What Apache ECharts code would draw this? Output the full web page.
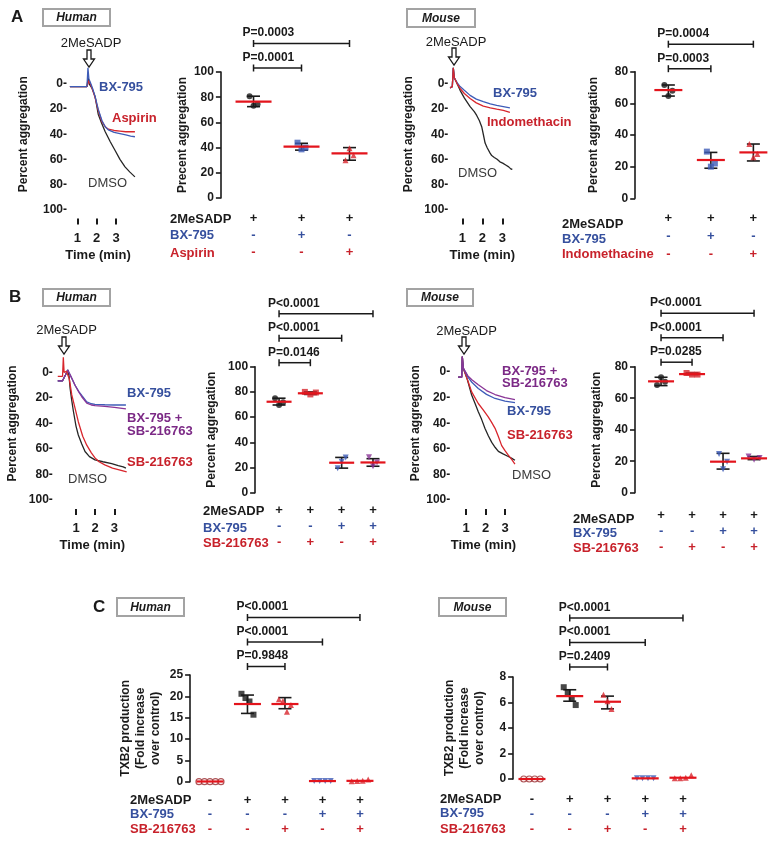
<!DOCTYPE html>
<html>
<head>
<meta charset="utf-8">
<script src="https://cdn.jsdelivr.net/npm/echarts@6.0.0/dist/echarts.min.js"></script>
<style>
html,body{margin:0;padding:0;background:#ffffff;}
#chart{width:781px;height:842px;}
</style>
</head>
<body>
<div id="chart"></div>
<script>
// ================= DATA =================
// Aggregation traces: [time (min), percent aggregation]
const traceAHumanDMSO = [[0.62,2],[1.5,2],[1.56,-5],[1.62,0],[1.75,3],[1.92,10],[2.08,24],[2.25,31],[2.44,38],[2.7,46],[2.95,53],[3.2,60],[3.46,66],[3.7,70],[3.97,74]];
const traceAHumanAspirin = [[0.62,2],[1.5,2],[1.6,-3],[1.68,0],[1.8,5],[1.92,11],[2.08,21],[2.27,30],[2.44,34],[2.6,36],[2.9,37],[3.2,37.5],[3.5,38],[3.75,38],[3.97,38]];
const traceAHumanBX = [[0.62,2],[1.5,2],[1.55,-13],[1.6,-4],[1.68,-1],[1.8,4],[1.92,10],[2.08,20],[2.27,29],[2.44,34],[2.6,36.5],[2.9,38.5],[3.2,39.5],[3.5,40.5],[3.75,41.5],[3.97,42]];

const traceAMouseDMSO = [[0.39,3],[0.5,2],[0.55,-13],[0.6,-5],[0.75,0],[0.89,5],[1.1,11],[1.39,18],[1.6,22],[1.72,25],[1.85,29],[1.97,34],[2.05,40],[2.14,47],[2.25,51],[2.39,55],[2.47,57],[2.52,56],[2.6,58.5],[2.66,57.5],[2.74,60],[2.8,59.5],[2.88,62],[2.95,61],[3.02,63],[3.1,62.5],[3.17,64.5],[3.25,64],[3.32,66],[3.39,65.5],[3.45,68],[3.5,67.5]];
const traceAMouseIndo = [[0.39,3],[0.5,2],[0.55,-13],[0.6,-5],[0.75,0],[0.89,3.5],[1.1,7.5],[1.39,11.5],[1.7,15],[2.05,17.6],[2.4,19],[2.72,20],[3.05,21],[3.38,22.5]];
const traceAMouseBX = [[0.39,3],[0.5,2],[0.55,-13],[0.6,-5],[0.75,-1],[0.89,2],[1.1,5],[1.39,9],[1.7,12],[2.05,14],[2.4,15.8],[2.72,17],[3.05,18],[3.38,19]];

const traceBHumanDMSO = [[0.05,6.5],[0.3,6.5],[0.45,2],[0.57,-2],[0.64,3],[0.69,12],[0.78,22],[0.86,30],[1.0,42],[1.12,49],[1.3,56],[1.47,62],[1.7,66],[1.99,68.5],[2.4,70],[2.86,71.5],[3.2,73],[3.46,74],[3.6,75]];
const traceBHumanSB = [[0.05,3],[0.3,3],[0.34,-12],[0.38,0],[0.5,-1],[0.57,-1.5],[0.65,5],[0.78,17.6],[0.95,28],[1.12,38.6],[1.35,50],[1.56,57],[1.8,63],[1.99,67],[2.2,70],[2.5,72.5],[2.9,75],[3.3,76.5],[3.64,78]];
const traceBHumanCombo = [[0.05,6.5],[0.3,6.5],[0.45,2],[0.57,-2],[0.7,2],[0.95,10],[1.15,15.5],[1.3,19],[1.56,24],[1.8,25.5],[1.99,26],[2.5,26.5],[3.0,27.3],[3.6,28.5]];
const traceBHumanBX = [[0.05,6.5],[0.3,6.5],[0.45,2],[0.57,-2],[0.7,2],[0.95,10],[1.15,15],[1.3,18],[1.56,23],[1.8,24.5],[1.99,25],[2.5,25.3],[3.0,25.5],[3.6,25.5]];

const traceBMouseDMSO = [[0.6,4],[0.78,4],[0.81,-12],[0.86,-3],[0.91,-2],[1.05,5],[1.29,18],[1.45,24],[1.63,31],[1.8,37],[1.97,44],[2.15,50],[2.32,55],[2.5,59],[2.66,62],[2.9,64],[3.17,66],[3.35,67.5],[3.51,69]];
const traceBMouseSB = [[0.6,4],[0.78,4],[0.81,-12],[0.86,-3],[0.91,-2],[1.1,7],[1.29,15.5],[1.63,24.6],[1.9,30],[2.14,35],[2.3,39],[2.49,44],[2.65,50],[2.83,57.5],[3.0,61.5],[3.17,65],[3.35,68.5],[3.51,72]];
const traceBMouseBX = [[0.6,4],[0.78,4],[0.81,-12],[0.86,-3],[0.91,-2],[1.1,4],[1.3,8],[1.63,12.9],[2.05,17.5],[2.49,20.7],[3.0,22.8],[3.51,24]];
const traceBMouseCombo = [[0.6,4],[0.78,4],[0.81,-12],[0.86,-3],[0.91,-2],[1.1,3],[1.3,6],[1.63,10],[2.05,14.5],[2.49,17.6],[3.0,20],[3.51,21.5]];

const timeTicks = [1, 2, 3];

// Scatter panels: individual points per group, mean, error bar low/high
const aHumanPoints = [[80.8,73.3,74.4],[43.9,38.6,40.0],[30.0,39.4,34.0]];
const aHumanMean = [76.5,40.7,35.4];
const aHumanLow = [72.5,38.0,30.0];
const aHumanHigh = [80.8,43.4,40.0];
const aHumanRows = ['2MeSADP','BX-795','Aspirin'];
const aHumanSigns = [['+','+','+'],['-','+','-'],['-','-','+']];
const aHumanPLabels = ['P=0.0003','P=0.0001'];
const aHumanPFrom = [1,1];
const aHumanPTo = [3,2];

const aMousePoints = [[71.6,64.6,68.0],[29.5,20.0,22.0],[34.3,25.9,28.0]];
const aMouseMean = [68.4,24.2,29.0];
const aMouseLow = [64.6,19.0,23.6];
const aMouseHigh = [71.6,29.0,34.3];
const aMouseRows = ['2MeSADP','BX-795','Indomethacine'];
const aMouseSigns = [['+','+','+'],['-','+','-'],['-','-','+']];
const aMousePLabels = ['P=0.0004','P=0.0003'];
const aMousePFrom = [1,1];
const aMousePTo = [3,2];

const bHumanPoints = [[75.0,69.6,71.8],[80.0,78.0,79.5],[19.4,24.6,28.0],[28.2,21.0,24.0]];
const bHumanMean = [72.2,78.9,23.8,24.0];
const bHumanLow = [69.6,78.0,19.5,21.0];
const bHumanHigh = [75.0,80.0,28.0,27.0];
const bHumanRows = ['2MeSADP','BX-795','SB-216763'];
const bHumanSigns = [['+','+','+','+'],['-','-','+','+'],['-','+','-','+']];
const bHumanPLabels = ['P<0.0001','P<0.0001','P=0.0146'];
const bHumanPFrom = [1,1,1];
const bHumanPTo = [4,3,2];

const bMousePoints = [[68.4,73.3,70.4],[76.0,75.0,75.0],[24.6,14.9,19.7],[23.0,21.0,22.0]];
const bMouseMean = [70.7,75.3,19.7,21.8];
const bMouseLow = [68.0,75.0,15.0,21.0];
const bMouseHigh = [73.3,76.0,25.0,23.0];
const bMouseRows = ['2MeSADP','BX-795','SB-216763'];
const bMouseSigns = [['+','+','+','+'],['-','-','+','+'],['-','+','-','+']];
const bMousePLabels = ['P<0.0001','P<0.0001','P=0.0285'];
const bMousePFrom = [1,1,1];
const bMousePTo = [4,3,2];

const cHumanPoints = [[0,0,0,0,0],[20.6,19.6,18.8,15.7],[19.3,18.9,16.4,18.0],[0.15,0.15,0.15,0.15],[0.1,0.15,0.2,0.5]];
const cHumanMean = [0.05,18.2,18.2,0.15,0.2];
const cHumanLow = [0.05,16.0,17.1,0.15,0.2];
const cHumanHigh = [0.05,20.3,19.7,0.15,0.2];
const cHumanRows = ['2MeSADP','BX-795','SB-216763'];
const cHumanSigns = [['-','+','+','+','+'],['-','-','-','+','+'],['-','-','+','-','+']];
const cHumanPLabels = ['P<0.0001','P<0.0001','P=0.9848'];
const cHumanPFrom = [2,2,2];
const cHumanPTo = [5,4,3];

const cMousePoints = [[0,0,0,0],[7.2,6.8,6.3,5.8],[6.6,6.1,5.5],[0.05,0.05,0.05,0.05],[0.05,0.05,0.1,0.3]];
const cMouseMean = [0.0,6.5,6.06,0.05,0.1];
const cMouseLow = [0.0,6.1,5.5,0.05,0.1];
const cMouseHigh = [0.0,7.0,6.5,0.05,0.1];
const cMouseRows = ['2MeSADP','BX-795','SB-216763'];
const cMouseSigns = [['-','+','+','+','+'],['-','-','-','+','+'],['-','-','+','-','+']];
const cMousePLabels = ['P<0.0001','P<0.0001','P=0.2409'];
const cMousePFrom = [2,2,2];
const cMousePTo = [5,4,3];

// ================= STYLE =================
const FONT = '"Liberation Sans", Arial, Helvetica, sans-serif';
const BLACK = '#1a1a1a';
const TBLUE = '#36509e', TRED = '#c8222b', TPURPLE = '#7c2a86', TGRAY = '#3a3a3a';
const LBLUE = '#3e5cb8', LRED = '#d8262d', LPURPLE = '#8a3596', LBLACK = '#262626';
const MEANRED = '#e3141c';
const rowColors = [BLACK, TBLUE, TRED];

const grids = [], xAxes = [], yAxes = [], series = [];

function addTrace(p) {
  const gi = grids.length;
  grids.push({left: p.left, top: p.top, width: p.width, height: p.height});
  xAxes.push({
    gridIndex: gi, type: 'value', min: p.tMin, max: p.tMax, offset: 9, position: 'bottom',
    axisLine: {show: false, onZero: false}, splitLine: {show: false},
    axisTick: {show: true, customValues: timeTicks, length: 6, lineStyle: {color: BLACK, width: 2}},
    axisLabel: {customValues: timeTicks, margin: 13, color: BLACK, fontFamily: FONT, fontWeight: 'bold', fontSize: 13},
    name: 'Time (min)', nameLocation: 'middle', nameGap: 30,
    nameTextStyle: {color: BLACK, fontFamily: FONT, fontWeight: 'bold', fontSize: 13, padding: p.namePad || 0}
  });
  yAxes.push({
    gridIndex: gi, type: 'value', inverse: true, min: -20, max: 100, interval: 20, position: 'left',
    axisLine: {show: false, onZero: false}, axisTick: {show: false}, splitLine: {show: false},
    axisLabel: {margin: p.labelMargin, color: BLACK, fontFamily: FONT, fontWeight: 'bold', fontSize: 12,
      formatter: v => (v < 0 ? '' : v + '-')},
    name: 'Percent aggregation', nameLocation: 'middle', nameRotate: 90, nameGap: p.nameGap,
    nameTextStyle: {color: BLACK, fontFamily: FONT, fontWeight: 'bold', fontSize: 12}
  });
  p.lines.forEach(l => series.push({
    type: 'line', xAxisIndex: gi, yAxisIndex: gi, data: l.data, showSymbol: false, symbol: 'none',
    lineStyle: {color: l.color, width: 1.3}, silent: true, animation: false, z: l.z || 2
  }));
}

function addScatter(p) {
  const gi = grids.length;
  grids.push({left: p.left, top: p.top, width: p.width, height: p.height});
  const groups = p.points.map((_, i) => i + 1);
  const rich = {};
  rowColors.forEach((c, r) => { rich['r' + r] = {color: c, fontFamily: FONT, fontWeight: 'bold', fontSize: 13, lineHeight: p.lineH}; });
  xAxes.push({
    gridIndex: gi, type: 'value', min: p.xMin, max: p.xMax, position: 'bottom',
    axisLine: {show: false, onZero: false}, axisTick: {show: false}, splitLine: {show: false},
    axisLabel: {customValues: groups, margin: p.tableMargin, rich: rich,
      formatter: v => { const i = Math.round(v) - 1; return p.signs.map((row, r) => '{r' + r + '|' + row[i] + '}').join('\n'); }}
  });
  yAxes.push({
    gridIndex: gi, type: 'value', min: 0, max: p.yMax, interval: p.yInt, position: 'left',
    axisLine: {show: true, onZero: false, lineStyle: {color: BLACK, width: 1.6}},
    axisTick: {show: true, length: 5, lineStyle: {color: BLACK, width: 1.6}},
    splitLine: {show: false},
    axisLabel: {margin: 7, color: BLACK, fontFamily: FONT, fontWeight: 'bold', fontSize: 12},
    name: p.yName, nameLocation: 'middle', nameRotate: 90, nameGap: p.nameGap,
    nameTextStyle: {color: BLACK, fontFamily: FONT, fontWeight: 'bold', fontSize: 12, lineHeight: 15}
  });
  // error bars
  series.push({
    type: 'custom', xAxisIndex: gi, yAxisIndex: gi, clip: false, silent: true, animation: false, z: 1,
    data: groups.map((g, i) => [g, p.low[i], p.high[i]]),
    encode: {x: 0, y: [1, 2]},
    renderItem: (params, api) => {
      const lo = api.value(1), hi = api.value(2);
      if (hi - lo <= 0) return null;
      const a = api.coord([api.value(0), lo]), b = api.coord([api.value(0), hi]);
      const st = {stroke: BLACK, lineWidth: 1.6, fill: null};
      const c = 6.5;
      return {type: 'group', children: [
        {type: 'line', shape: {x1: a[0], y1: a[1], x2: b[0], y2: b[1]}, style: st},
        {type: 'line', shape: {x1: a[0] - c, y1: a[1], x2: a[0] + c, y2: a[1]}, style: st},
        {type: 'line', shape: {x1: b[0] - c, y1: b[1], x2: b[0] + c, y2: b[1]}, style: st}
      ]};
    }
  });
  // points
  const items = [];
  p.points.forEach((vals, gIdx) => {
    const st = p.styles[gIdx];
    const n = vals.length;
    const range = Math.max(...vals) - Math.min(...vals);
    const step = range < 0.05 * p.yMax ? 5.5 : 4;
    vals.forEach((v, i) => {
      items.push({
        value: [gIdx + 1, v], symbol: st.symbol, symbolRotate: st.rotate || 0,
        symbolOffset: [(i - (n - 1) / 2) * step, 0],
        itemStyle: st.hollow ? {color: '#ffffff', borderColor: st.color, borderWidth: 1.2} : {color: st.color}
      });
    });
  });
  series.push({type: 'scatter', xAxisIndex: gi, yAxisIndex: gi, data: items, symbolSize: p.symSize || 6, silent: true, animation: false, z: 2});
  // means
  series.push({
    type: 'custom', xAxisIndex: gi, yAxisIndex: gi, clip: false, silent: true, animation: false, z: 3,
    data: groups.map((g, i) => [g, p.mean[i]]),
    renderItem: (params, api) => {
      const c = api.coord([api.value(0), api.value(1)]);
      return {type: 'line', shape: {x1: c[0] - p.meanW / 2, y1: c[1], x2: c[0] + p.meanW / 2, y2: c[1]},
        style: {stroke: MEANRED, lineWidth: 2.2}};
    }
  });
  // significance brackets
  const nB = p.pLabels.length;
  series.push({
    type: 'custom', xAxisIndex: gi, yAxisIndex: gi, clip: false, silent: true, animation: false, z: 3,
    data: p.pLabels.map((t, i) => [p.pFrom[i], p.pTo[i], nB - 1 - i]),
    encode: {x: [0, 1]},
    renderItem: (params, api) => {
      const a = api.coord([api.value(0), p.yMax]), b = api.coord([api.value(1), p.yMax]);
      const y = a[1] - p.bBase - 24.5 * api.value(2);
      const st = {stroke: BLACK, lineWidth: 1.5, fill: null};
      return {type: 'group', children: [
        {type: 'line', shape: {x1: a[0], y1: y, x2: b[0], y2: y}, style: st},
        {type: 'line', shape: {x1: a[0], y1: y - 3.5, x2: a[0], y2: y + 3.5}, style: st},
        {type: 'line', shape: {x1: b[0], y1: y - 3.5, x2: b[0], y2: y + 3.5}, style: st},
        {type: 'text', x: a[0] - 11, y: y - 10.5, style: {text: p.pLabels[params.dataIndex], fill: BLACK,
          font: 'bold 12px ' + FONT, textAlign: 'left', textVerticalAlign: 'middle', align: 'left', verticalAlign: 'middle'}}
      ]};
    }
  });
}

// ---- trace panels
addTrace({left: 69.5, top: 59, width: 66, height: 150.5, tMin: 0.6, tMax: 4.0, labelMargin: 2.5, nameGap: 40, namePad: [0, 9, 0, 0],
  lines: [{data: traceAHumanDMSO, color: LBLACK}, {data: traceAHumanAspirin, color: LRED}, {data: traceAHumanBX, color: LBLUE}]});
addTrace({left: 448.3, top: 59, width: 68, height: 150.5, tMin: 0.3, tMax: 3.7, labelMargin: 0, nameGap: 34,
  lines: [{data: traceAMouseDMSO, color: LBLACK}, {data: traceAMouseBX, color: LBLUE}, {data: traceAMouseIndo, color: LRED}]});
addTrace({left: 56.8, top: 347, width: 71.04, height: 153, tMin: 0, tMax: 3.7, labelMargin: 4, nameGap: 38,
  lines: [{data: traceBHumanDMSO, color: LBLACK}, {data: traceBHumanBX, color: LBLUE}, {data: traceBHumanCombo, color: LPURPLE}, {data: traceBHumanSB, color: LRED}]});
addTrace({left: 456.25, top: 346.4, width: 62.4, height: 153.6, tMin: 0.5, tMax: 3.7, labelMargin: 6, nameGap: 35, namePad: [0, 8, 0, 0],
  lines: [{data: traceBMouseDMSO, color: LBLACK}, {data: traceBMouseSB, color: LRED}, {data: traceBMouseBX, color: LBLUE}, {data: traceBMouseCombo, color: LPURPLE}]});

// ---- scatter panels
const stylesA = [{symbol: 'circle', color: BLACK}, {symbol: 'rect', color: LBLUE}, {symbol: 'triangle', color: LRED}];
const stylesB = [{symbol: 'circle', color: BLACK}, {symbol: 'rect', color: LRED}, {symbol: 'triangle', rotate: 180, color: LBLUE}, {symbol: 'triangle', rotate: 180, color: LPURPLE}];
const stylesC = [{symbol: 'circle', hollow: true, color: '#9a2a2e'}, {symbol: 'rect', color: BLACK}, {symbol: 'triangle', color: LRED}, {symbol: 'triangle', rotate: 180, color: LBLUE}, {symbol: 'triangle', color: LRED}];

addScatter({left: 220.9, top: 72, width: 152.6, height: 126, xMin: 0.32, xMax: 3.5, yMax: 100, yInt: 20,
  yName: 'Precent aggregation', nameGap: 30, points: aHumanPoints, mean: aHumanMean, low: aHumanLow, high: aHumanHigh,
  signs: aHumanSigns, pLabels: aHumanPLabels, pFrom: aHumanPFrom, pTo: aHumanPTo, styles: stylesA,
  meanW: 36, bBase: 4, tableMargin: 12, lineH: 17});
addScatter({left: 635.2, top: 71.7, width: 137.3, height: 126.6, xMin: 0.22, xMax: 3.45, yMax: 80, yInt: 20,
  yName: 'Percent aggregation', nameGap: 34, points: aMousePoints, mean: aMouseMean, low: aMouseLow, high: aMouseHigh,
  signs: aMouseSigns, pLabels: aMousePLabels, pFrom: aMousePFrom, pTo: aMousePTo, styles: stylesA,
  meanW: 28, bBase: 3, tableMargin: 11, lineH: 18});
addScatter({left: 255.1, top: 366.7, width: 130.4, height: 126, xMin: 0.235, xMax: 4.4, yMax: 100, yInt: 20,
  yName: 'Percent aggregation', nameGap: 36, points: bHumanPoints, mean: bHumanMean, low: bHumanLow, high: bHumanHigh,
  signs: bHumanSigns, pLabels: bHumanPLabels, pFrom: bHumanPFrom, pTo: bHumanPTo, styles: stylesB,
  meanW: 25, bBase: 4, tableMargin: 10, lineH: 16});
addScatter({left: 635, top: 366.7, width: 133, height: 126, xMin: 0.16, xMax: 4.45, yMax: 80, yInt: 20,
  yName: 'Percent aggregation', nameGap: 31, points: bMousePoints, mean: bMouseMean, low: bMouseLow, high: bMouseHigh,
  signs: bMouseSigns, pLabels: bMousePLabels, pFrom: bMousePFrom, pTo: bMousePTo, styles: stylesB,
  meanW: 26, bBase: 4.5, tableMargin: 15, lineH: 16});
addScatter({left: 190.1, top: 675, width: 188.6, height: 106.7, xMin: 0.47, xMax: 5.5, yMax: 25, yInt: 5,
  yName: 'TXB2 production\n(Fold increase\nover control)', nameGap: 27, points: cHumanPoints, mean: cHumanMean, low: cHumanLow, high: cHumanHigh,
  signs: cHumanSigns, pLabels: cHumanPLabels, pFrom: cHumanPFrom, pTo: cHumanPTo, styles: stylesC,
  meanW: 27, bBase: 8.5, tableMargin: 11, lineH: 14.5});
addScatter({left: 513.1, top: 677, width: 188.75, height: 102, xMin: 0.5, xMax: 5.5, yMax: 8, yInt: 2,
  yName: 'TXB2 production\n(Fold increase\nover control)', nameGap: 26, points: cMousePoints, mean: cMouseMean, low: cMouseLow, high: cMouseHigh,
  signs: cMouseSigns, pLabels: cMousePLabels, pFrom: cMousePFrom, pTo: cMousePTo, styles: stylesC,
  meanW: 27, bBase: 10, tableMargin: 12.5, lineH: 15});

// ---- annotations
const G = [];
function txt(t, x, y, opt) {
  opt = opt || {};
  G.push({type: 'text', x: x, y: y, silent: true, style: {text: t, fill: opt.color || BLACK,
    font: (opt.font || 'bold 13px') + ' ' + FONT, textAlign: opt.align || 'left', textVerticalAlign: 'middle',
    align: opt.align || 'left', verticalAlign: 'middle'}});
}
function box(label, x, y, w, h) {
  G.push({type: 'rect', silent: true, shape: {x: x, y: y, width: w, height: h}, style: {fill: '#ffffff', stroke: '#a3a3a3', lineWidth: 2}});
  txt(label, x + w / 2, y + h / 2 + 0.5, {font: 'italic bold 12px', align: 'center'});
}
function arrow(cx, y0) {
  G.push({type: 'polygon', silent: true, shape: {points: [[cx - 2, y0], [cx + 2, y0], [cx + 2, y0 + 9], [cx + 5.5, y0 + 9], [cx, y0 + 17], [cx - 5.5, y0 + 9], [cx - 2, y0 + 9]]},
    style: {fill: '#ffffff', stroke: BLACK, lineWidth: 1.3}});
}
txt('A', 11, 17, {font: 'bold 17px'});
txt('B', 9, 297, {font: 'bold 17px'});
txt('C', 93, 607, {font: 'bold 17px'});
box('Human', 43, 9, 67, 17); box('Mouse', 407, 9, 68, 18);
box('Human', 43, 289, 67, 17); box('Mouse', 407, 289, 66, 17);
box('Human', 117, 598, 67, 18); box('Mouse', 439, 598, 67, 18);

txt('2MeSADP', 91, 43, {font: '13px', align: 'center'}); arrow(89, 50);
txt('2MeSADP', 456, 42, {font: '13px', align: 'center'}); arrow(454, 48);
txt('2MeSADP', 66.5, 330, {font: '13px', align: 'center'}); arrow(64, 337);
txt('2MeSADP', 466.5, 331, {font: '13px', align: 'center'}); arrow(464, 337);

txt('BX-795', 99, 87, {color: TBLUE}); txt('Aspirin', 112, 118, {color: TRED}); txt('DMSO', 88, 183, {color: TGRAY, font: '13px'});
txt('BX-795', 493, 93, {color: TBLUE}); txt('Indomethacin', 487, 122, {color: TRED}); txt('DMSO', 458, 173, {color: TGRAY, font: '13px'});
txt('BX-795', 127, 393, {color: TBLUE}); txt('BX-795 +', 127, 418, {color: TPURPLE}); txt('SB-216763', 127, 431, {color: TPURPLE});
txt('SB-216763', 127, 462, {color: TRED}); txt('DMSO', 68, 479, {color: TGRAY, font: '13px'});
txt('BX-795 +', 502, 371, {color: TPURPLE}); txt('SB-216763', 502, 383, {color: TPURPLE});
txt('BX-795', 507, 411, {color: TBLUE}); txt('SB-216763', 507, 435, {color: TRED}); txt('DMSO', 512, 475, {color: TGRAY, font: '13px'});

function rows(labels, x, ys) { labels.forEach((l, i) => txt(l, x, ys[i], {color: rowColors[i]})); }
rows(aHumanRows, 170, [219, 235, 253]);
rows(aMouseRows, 562, [224, 239, 254]);
rows(bHumanRows, 203, [511, 528, 543]);
rows(bMouseRows, 573, [519, 533, 548]);
rows(cHumanRows, 130, [800, 814, 829]);
rows(cMouseRows, 440, [799, 813, 829]);

const chart = echarts.init(document.getElementById('chart'), null, {renderer: 'canvas', width: 781, height: 842});
chart.setOption({
  backgroundColor: '#ffffff',
  animation: false,
  textStyle: {fontFamily: FONT},
  grid: grids, xAxis: xAxes, yAxis: yAxes, series: series,
  graphic: {elements: G}
});
</script>
</body>
</html>
